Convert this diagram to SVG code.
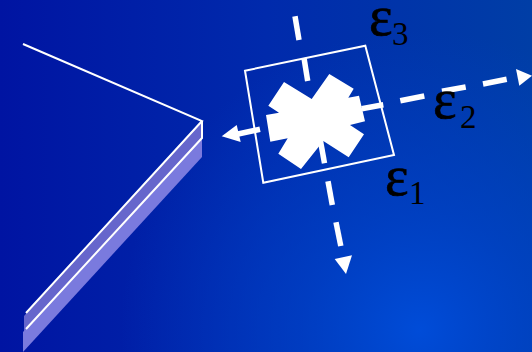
<svg xmlns="http://www.w3.org/2000/svg" width="532" height="352" viewBox="0 0 532 352">
<style>
.ray{stroke:#fff;stroke-width:5.5;fill:none}
.head{fill:#fff}
.thin{stroke:#fff;stroke-width:2;fill:none}
.eps{font-family:"Liberation Serif",serif;font-size:56px;fill:#000;stroke:#000;stroke-width:0.7}
.sub{font-family:"Liberation Serif",serif;font-size:33px;fill:#000}
</style>
<defs>
<linearGradient id="bg" x1="0" y1="0" x2="1" y2="0">
<stop offset="0" stop-color="#0014a2"/>
<stop offset="0.5" stop-color="#002aac"/>
<stop offset="1" stop-color="#003ea6"/>
</linearGradient>
<radialGradient id="glow" gradientUnits="userSpaceOnUse" cx="420" cy="330" r="300">
<stop offset="0" stop-color="#004cd8" stop-opacity="1"/>
<stop offset="0.4" stop-color="#0044cc" stop-opacity="0.65"/>
<stop offset="1" stop-color="#0040c8" stop-opacity="0"/>
</radialGradient>
</defs>
<rect id="background" width="532" height="352" fill="url(#bg)"/>
<rect width="532" height="352" fill="url(#glow)"/>
<g id="plate">
<polygon points="202,121 202,138 24,332 24,316" fill="#6666cc"/>
<polygon points="202,138 202,157 23,352 23,332" fill="#7a7ade"/>
<polyline class="thin" points="23,44 202,121 26,313"/>
<polyline class="thin" points="202,121 202,138 26,329"/>
</g>
<g id="element">
<polygon class="thin" points="245,70.7 365.3,45.7 394,155 263.3,182.7"/>
<polygon fill="#fff" points="284,82 311.7,99 329.3,74 353.7,88.7 348.3,97.7 359,95.7 365,121.3 350,125 364,134.3 348.7,157.3 323.3,141 301,169 278.3,153.7 287.7,138.3 270.3,141.7 266,115 279,112.7 268.3,105.7"/>
</g>
<g id="connectors">
<line class="ray" x1="295" y1="16.3" x2="299" y2="40"/>
<line class="ray" x1="304" y1="58" x2="307.7" y2="81"/>
<line class="ray" x1="320.5" y1="141" x2="324.5" y2="163.3"/>
<line class="ray" x1="328" y1="181.3" x2="332.3" y2="205"/>
<line class="ray" x1="336" y1="222.3" x2="340.8" y2="246"/>
<polygon class="head" points="334.7,259 352,255.3 346,274"/>
<line class="ray" x1="361.7" y1="108.7" x2="383.3" y2="104.7"/>
<line class="ray" x1="400.3" y1="100.8" x2="424.3" y2="96"/>
<line class="ray" x1="442" y1="91.3" x2="465.7" y2="87"/>
<line class="ray" x1="483" y1="84" x2="506.7" y2="79.3"/>
<polygon class="head" points="516,69 532,75.7 519.3,85.7"/>
<line class="ray" x1="260" y1="129.3" x2="238" y2="134"/>
<polygon class="head" points="221.7,136.3 236.7,125 240.7,142"/>
</g>
<g id="label-e3"><text class="eps" x="369" y="35">ε</text><text class="sub" x="392" y="45">3</text></g>
<g id="label-e2"><text class="eps" x="433" y="118">ε</text><text class="sub" x="460" y="128">2</text></g>
<g id="label-e1"><text class="eps" x="385" y="195">ε</text><text class="sub" x="409" y="204">1</text></g>
</svg>
